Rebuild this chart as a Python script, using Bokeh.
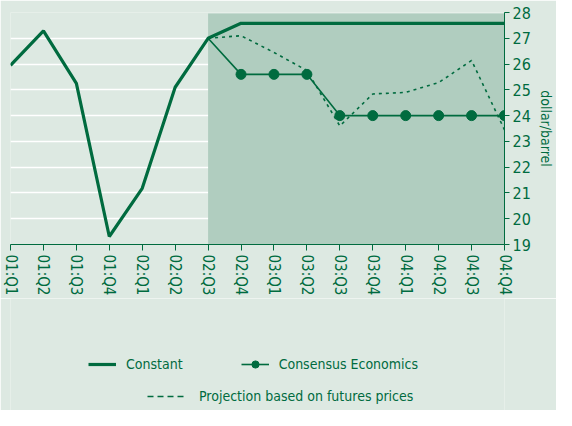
from bokeh.plotting import figure
from bokeh.models import Range1d, LinearAxis, Legend, LegendItem, FixedTicker, BoxAnnotation
from bokeh.layouts import column
from bokeh.embed import file_html
from bokeh.resources import INLINE

quarters = ["01:Q1", "01:Q2", "01:Q3", "01:Q4", "02:Q1", "02:Q2", "02:Q3", "02:Q4",
            "03:Q1", "03:Q2", "03:Q3", "03:Q4", "04:Q1", "04:Q2", "04:Q3", "04:Q4"]
constant = [25.95, 27.29, 25.25, 19.31, 21.18, 25.1, 27.0, 27.58,
            27.58, 27.58, 27.58, 27.58, 27.58, 27.58, 27.58, 27.58]
consensus_q = quarters[6:]
consensus = [27.0, 25.6, 25.6, 25.6, 24.0, 24.0, 24.0, 24.0, 24.0, 24.0]
futures_q = quarters[6:]
futures = [27.0, 27.1, 26.45, 25.75, 23.6, 24.84, 24.9, 25.28, 26.14, 23.45]
y_ticks = [19, 20, 21, 22, 23, 24, 25, 26, 27, 28]
forecast_start = "02:Q3"
series_labels = ["Constant", "Consensus Economics", "Projection based on futures prices"]

GREEN = "#006b3f"
BG = "#dde9e2"
SHADE = "#b0cdbf"
FONT = "DejaVu Sans Condensed"

idx = {q: i for i, q in enumerate(quarters)}
x_all = [idx[q] for q in quarters]
x_cons = [idx[q] for q in consensus_q]
x_fut = [idx[q] for q in futures_q]

# ---- main chart ----
p1 = figure(width=556, height=298, output_backend="svg", toolbar_location=None,
            x_range=Range1d(0, len(quarters) - 1), y_range=Range1d(y_ticks[0], y_ticks[-1]),
            min_border_left=10, min_border_right=46, min_border_top=12, min_border_bottom=0,
            background_fill_color=BG, border_fill_color=BG, outline_line_color=None,
            y_axis_location=None)

p1.add_layout(BoxAnnotation(left=idx[forecast_start], right=len(quarters) - 1,
                            bottom=y_ticks[0], top=y_ticks[-1] - 0.04,
                            fill_color=SHADE, fill_alpha=1.0, line_color=None, level="underlay"))

p1.xgrid.visible = False
p1.ygrid.ticker = FixedTicker(ticks=y_ticks)
p1.ygrid.grid_line_color = "white"
p1.ygrid.grid_line_width = 1.5
p1.ygrid.level = "underlay"

xa = p1.xaxis[0]
xa.ticker = FixedTicker(ticks=x_all)
xa.major_label_overrides = {i: q for i, q in enumerate(quarters)}
xa.major_label_orientation = "vertical"
xa.minor_tick_line_color = None
xa.major_tick_in = 0
xa.major_tick_out = 6
xa.axis_line_color = GREEN
xa.major_tick_line_color = GREEN
xa.major_label_text_color = GREEN
xa.major_label_text_font = FONT
xa.major_label_text_font_size = "15px"
xa.major_label_standoff = 4

ya = LinearAxis(ticker=FixedTicker(ticks=y_ticks), axis_label="dollar/barrel")
ya.axis_line_color = GREEN
ya.major_tick_line_color = GREEN
ya.minor_tick_line_color = None
ya.major_tick_in = 0
ya.major_tick_out = 5
ya.major_label_text_color = GREEN
ya.major_label_text_font = FONT
ya.major_label_text_font_size = "16px"
ya.major_label_standoff = 3
ya.axis_label_text_color = GREEN
ya.axis_label_text_font = FONT
ya.axis_label_text_font_size = "14px"
ya.axis_label_text_font_style = "normal"
ya.axis_label_standoff = 4
p1.add_layout(ya, "right")

p1.line(x_all, constant, line_color=GREEN, line_width=3.2)
p1.line(x_fut, futures, line_color=GREEN, line_width=1.6, line_dash="3 4")
p1.line(x_cons, consensus, line_color=GREEN, line_width=1.6)
p1.scatter(x_cons[1:], consensus[1:], size=10, fill_color=GREEN, line_color=GREEN)

# ---- legend strip (series re-plotted outside its visible range, used only for legend glyphs) ----
p2 = figure(width=556, height=112, output_backend="svg", toolbar_location=None,
            x_range=Range1d(0, 1), y_range=Range1d(0, 1),
            x_axis_location=None, y_axis_location=None,
            min_border_left=0, min_border_right=0, min_border_top=0, min_border_bottom=0,
            background_fill_color=BG, border_fill_color=BG, outline_line_color=None)
p2.xgrid.visible = False
p2.ygrid.visible = False
g_const = p2.line(x_all, constant, line_color=GREEN, line_width=3.2)
g_cons = p2.line(x_cons, consensus, line_color=GREEN, line_width=1.6)
g_cons_pts = p2.scatter(x_cons, consensus, size=10, fill_color=GREEN, line_color=GREEN)
g_fut = p2.line(x_fut, futures, line_color=GREEN, line_width=1.4, line_dash="6 4")

leg1 = Legend(items=[LegendItem(label=series_labels[0], renderers=[g_const]),
                     LegendItem(label=series_labels[1], renderers=[g_cons, g_cons_pts])],
              orientation="horizontal", location=(78, 37), spacing=58, glyph_width=28,
              label_standoff=10)
leg2 = Legend(items=[LegendItem(label=series_labels[2], renderers=[g_fut])],
              orientation="horizontal", location=(137, 5), glyph_width=38,
              label_standoff=14)
for lg in (leg1, leg2):
    lg.label_text_font = FONT
    lg.label_text_font_size = "14px"
    lg.label_text_color = GREEN
    lg.background_fill_alpha = 0
    lg.border_line_alpha = 0
    lg.label_height = 18
    lg.glyph_height = 18
    lg.margin = 0
    lg.padding = 0
    p2.add_layout(lg, "center")

p = column(p1, p2, spacing=0)

open("out.html", "w").write(file_html(p, INLINE))
